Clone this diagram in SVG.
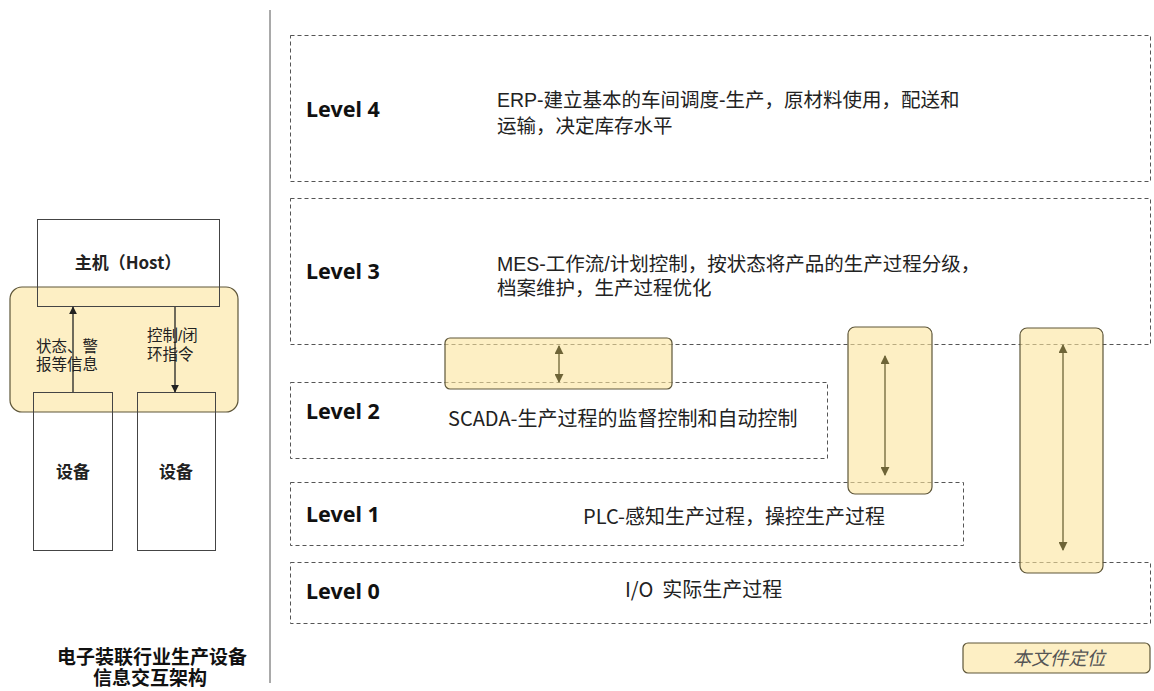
<svg xmlns="http://www.w3.org/2000/svg" width="1154" height="691" viewBox="0 0 1154 691">
<style>
.bg{fill:#ffffff}
.lvl{fill:none;stroke:#555;stroke-width:1;stroke-dasharray:4 3}
.box{fill:#ffffff;stroke:#444;stroke-width:1}
.boxo{fill:none;stroke:#444;stroke-width:1}
.yel{fill:#fbe49c;fill-opacity:0.6;stroke:#5e5639;stroke-width:1.2}
.lbl{font-family:"Noto Sans","Noto Sans CJK SC",sans-serif;font-weight:bold;font-size:21.5px;fill:#111}
.desc{font-family:"Liberation Sans","Noto Sans CJK SC",sans-serif;font-size:19.5px;fill:#222}
.desc2{font-family:"Noto Sans CJK SC","Noto Sans",sans-serif;font-size:20px;fill:#222}
.sm{font-family:"Liberation Sans","Noto Sans CJK SC",sans-serif;font-size:15.5px;fill:#222}
.bd{font-family:"Noto Sans CJK SC",sans-serif;font-size:17px;font-weight:bold;fill:#222}
.ttl{font-family:"Liberation Sans","Noto Sans CJK SC",sans-serif;font-size:19px;font-weight:bold;fill:#111}
.leg{font-family:"Noto Sans CJK SC",sans-serif;font-size:18.5px;font-style:italic;fill:#555}
.ak{stroke:#222;stroke-width:1.3;fill:none}
.ao{stroke:#6e6437;stroke-width:1.3;fill:none}
</style>
<defs>
<marker id="hk" viewBox="0 0 10 10" refX="9" refY="5" markerWidth="8" markerHeight="8" markerUnits="userSpaceOnUse" orient="auto"><path d="M0,0 L10,5 L0,10 z" fill="#222"/></marker>
<marker id="ho" viewBox="0 0 10 10" refX="9" refY="5" markerWidth="9" markerHeight="9" markerUnits="userSpaceOnUse" orient="auto-start-reverse"><path d="M0,0 L10,5 L0,10 z" fill="#6e6437"/></marker>
</defs>
<rect class="bg" x="0" y="0" width="1154" height="691"/>

<g id="divider"><line x1="270" y1="10" x2="270" y2="683" stroke="#555" stroke-width="1"/></g>

<g id="level4"><rect class="lvl" x="290.5" y="35.5" width="860" height="146"/>
<text class="lbl" x="306" y="117">Level 4</text>
<text class="desc" x="497" y="107">ERP-建立基本的车间调度-生产，原材料使用，配送和</text>
<text class="desc" x="497" y="133">运输，决定库存水平</text></g>

<g id="level3"><rect class="lvl" x="290.5" y="198.5" width="860" height="146"/>
<text class="lbl" x="306" y="279">Level 3</text>
<text class="desc" x="497" y="271">MES-工作流/计划控制，按状态将产品的生产过程分级，</text>
<text class="desc" x="497" y="295">档案维护，生产过程优化</text></g>

<g id="level2"><rect class="lvl" x="290.5" y="382.5" width="537" height="76"/>
<text class="lbl" x="306" y="419">Level 2</text>
<text class="desc2" x="448" y="426">SCADA-生产过程的监督控制和自动控制</text></g>

<g id="level1"><rect class="lvl" x="290.5" y="482.5" width="673" height="63"/>
<text class="lbl" x="306" y="522">Level 1</text>
<text class="desc2" x="583" y="524">PLC-感知生产过程，操控生产过程</text></g>

<g id="level0"><rect class="lvl" x="290.5" y="562.5" width="860" height="61"/>
<text class="lbl" x="306" y="599">Level 0</text>
<text class="desc2" x="625" y="597" xml:space="preserve">I/O  实际生产过程</text></g>

<g id="link32"><rect class="yel" x="445" y="338" width="227" height="51" rx="5"/></g>
<g id="link31"><rect class="yel" x="848" y="327" width="84" height="167" rx="7"/></g>
<g id="link30"><rect class="yel" x="1020" y="328" width="83" height="245" rx="7"/></g>

<g id="host"><rect class="box" x="37.5" y="219.5" width="182" height="87"/>
<text class="bd" x="128" y="269" text-anchor="middle">主机（Host）</text></g>
<g id="dev1"><rect class="box" x="33.5" y="392.5" width="79" height="158"/>
<text class="bd" x="73" y="478" text-anchor="middle">设备</text></g>
<g id="dev2"><rect class="box" x="137.5" y="392.5" width="78" height="158"/>
<text class="bd" x="176" y="478" text-anchor="middle">设备</text></g>

<g id="bus"><rect class="yel" x="10" y="287" width="228" height="125" rx="12" stroke="#555"/>
<rect class="boxo" x="37.5" y="219.5" width="182" height="87"/>
<rect class="boxo" x="33.5" y="392.5" width="79" height="158"/>
<rect class="boxo" x="137.5" y="392.5" width="78" height="158"/>
<text class="sm" x="36" y="352">状态、警</text>
<text class="sm" x="36" y="370">报等信息</text>
<text class="sm" x="147" y="341">控制/闭</text>
<text class="sm" x="147" y="360">环指令</text></g>

<g id="connectors">
<line class="ak" x1="73" y1="392" x2="73" y2="307" marker-end="url(#hk)"/>
<line class="ak" x1="175" y1="307" x2="175" y2="392" marker-end="url(#hk)"/>
<line class="ao" x1="559" y1="346" x2="559" y2="382" marker-start="url(#ho)" marker-end="url(#ho)"/>
<line class="ao" x1="885" y1="356" x2="885" y2="475" marker-start="url(#ho)" marker-end="url(#ho)"/>
<line class="ao" x1="1063" y1="345" x2="1063" y2="550" marker-start="url(#ho)" marker-end="url(#ho)"/>
</g>

<g id="title"><text class="ttl" x="152" y="664" text-anchor="middle">电子装联行业生产设备</text>
<text class="ttl" x="150" y="685" text-anchor="middle">信息交互架构</text></g>

<g id="legend"><rect class="yel" x="963" y="643" width="187" height="30" rx="5" stroke="#555"/>
<text class="leg" x="1059" y="665" text-anchor="middle">本文件定位</text></g>
</svg>
